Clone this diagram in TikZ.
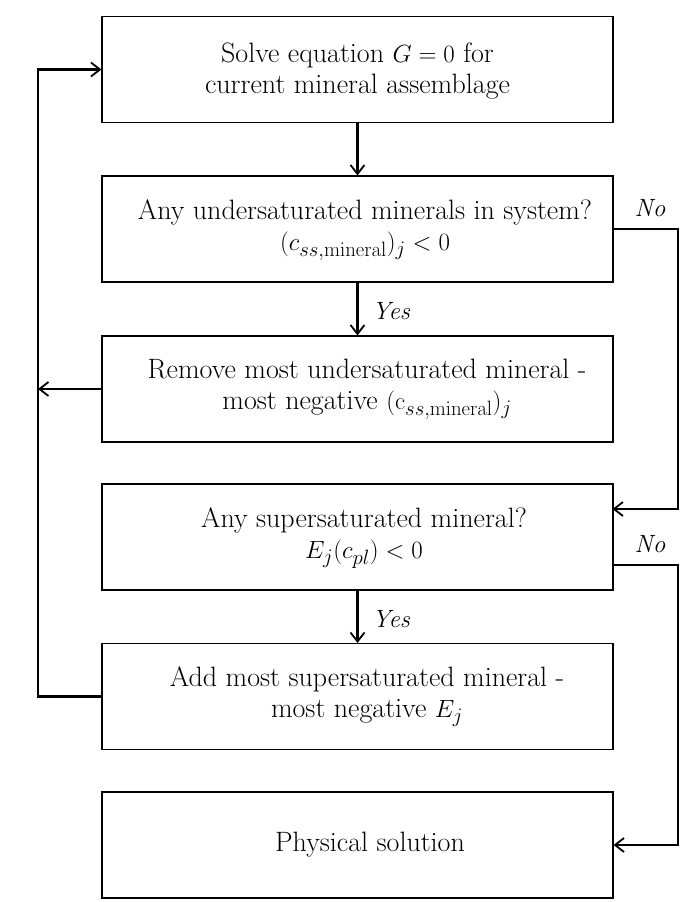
\documentclass[tikz,border=0pt]{standalone}
\usetikzlibrary{arrows.meta}
\begin{document}
\begin{tikzpicture}[x=1pt,y=-1pt,
  box/.style={draw, line width=1.1pt, minimum width=511pt, minimum height=106pt, inner sep=0pt},
  txt/.style={align=center, font=\fontsize{28}{31}\selectfont, inner sep=0pt},
  lbl/.style={font=\fontsize{25}{28}\selectfont\itshape, inner sep=0pt},
  conn/.style={line width=2.4pt, -{Straight Barb[length=9pt,width=14pt,line width=1.8pt]}},
  plain/.style={line width=2.4pt}]
\useasboundingbox (0,0) rectangle (681,902);
\node[box] (b1) at (357.5,69.5) {};
\node[box] (b2) at (357.5,229) {};
\node[box] (b3) at (357.5,389) {};
\node[box] (b4) at (357.5,537) {};
\node[box] (b5) at (357.5,696.5) {};
\node[box] (b6) at (357.5,845) {};
\node[txt] (t1) at (357.5,71) {Solve equation $G=0$ for\\current mineral assemblage};
\node[txt] (t2) at (365,230) {Any undersaturated minerals in system?\\$(c_{ss,\mathrm{mineral}})_j<0$};
\node[txt] (t3) at (367,389) {Remove most undersaturated mineral -\\most negative $(\mathrm{c}_{ss,\mathrm{mineral}})_j$};
\node[txt] (t4) at (364,538) {Any supersaturated mineral?\\$E_j(c_{pl})<0$};
\node[txt] (t5) at (367,697) {Add most supersaturated mineral -\\most negative $E_j$};
\node[txt] (t6) at (370,845) {Physical solution};
\coordinate (lx) at (38,0);
\coordinate (rx) at (678,0);
\coordinate (in4) at (612.5,509);
\coordinate (out4) at (612.5,565);
\draw[conn] (b1.south) -- (b2.north);
\draw[conn] (b2.south) -- (b3.north);
\draw[conn] (b4.south) -- (b5.north);
\draw[conn] (b5.west) -- (b5.west -| lx) |- (b1.west);
\draw[conn] (b3.west) -- (b3.west -| lx);
\draw[conn] (b2.east) -- (b2.east -| rx) |- (in4);
\draw[conn] (out4) -- (out4 -| rx) |- (b6.east);
\node[lbl, anchor=west] (y1) at (372,311) {Yes};
\node[lbl, anchor=west] (y2) at (372,619) {Yes};
\node[lbl] (n1) at (650,208) {No};
\node[lbl] (n2) at (650,544) {No};
\end{tikzpicture}
\end{document}
